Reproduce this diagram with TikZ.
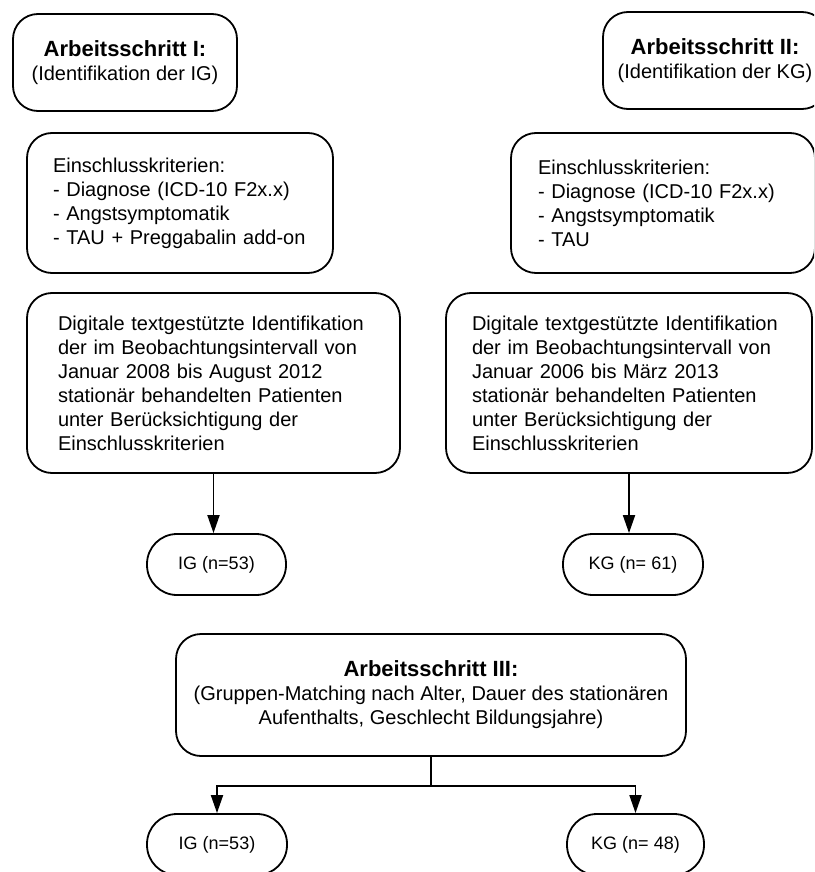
\documentclass[tikz,border=0pt]{standalone}
\usepackage{fontspec}
\setmainfont{Liberation Sans}
\usetikzlibrary{arrows.meta}

\begin{document}
\begin{tikzpicture}[x=1pt, y=-1pt, >={Triangle[length=18pt,width=12pt]},
  box/.style={draw, line width=1.8pt, rounded corners=25pt, inner sep=0pt,
    font=\fontsize{20}{24}\selectfont},
  stepbox/.style={box, align=center, minimum width=224pt, minimum height=97pt},
  critbox/.style={box, align=left, minimum height=140pt},
  idbox/.style={box, align=left, minimum height=180pt},
  groupbox/.style={box, rounded corners=30pt, minimum width=139pt, minimum height=61pt,
    font=\fontsize{18}{22}\selectfont},
  conn/.style={->, line width=1.8pt}]
  \clip (0,0) rectangle (814,872);
  % left column: intervention group
  \node[stepbox] (stepI) at (125,62.5)
    {{\bfseries\fontsize{22}{26}\selectfont Arbeitsschritt I:}\\(Identifikation der IG)};
  \node[critbox, minimum width=306pt, text width=254pt] (critI) at (180,203)
    {Einschlusskriterien:\\- Diagnose (ICD-10 F2x.x)\\- Angstsymptomatik\\- TAU + Preggabalin add-on};
  \node[idbox, minimum width=373pt, text width=311pt] (idI) at (213.5,383)
    {Digitale textgestützte Identifikation\\der im Beobachtungsintervall von\\Januar 2008 bis August 2012\\stationär behandelten Patienten\\unter Berücksichtigung der\\Einschlusskriterien};
  \node[groupbox] (igI) at (216.5,564.5) {IG (n=53)};
  % right column: control group
  \node[stepbox] (stepII) at (715,60.5)
    {{\bfseries\fontsize{22}{26}\selectfont Arbeitsschritt II:}\\(Identifikation der KG)};
  \node[critbox, minimum width=304pt, text width=250pt] (critII) at (663,203)
    {Einschlusskriterien:\\- Diagnose (ICD-10 F2x.x)\\- Angstsymptomatik\\- TAU};
  \node[idbox, minimum width=366pt, text width=314pt] (idII) at (629,383)
    {Digitale textgestützte Identifikation\\der im Beobachtungsintervall von\\Januar 2006 bis März 2013\\stationär behandelten Patienten\\unter Berücksichtigung der\\Einschlusskriterien};
  \node[groupbox, minimum width=140pt] (kgI) at (633,564.5) {KG (n= 61)};
  \draw[conn] (idI.south) -- (idI.south |- igI.north);
  \draw[conn] (idII.south) -- (idII.south |- kgI.north);
  % matching
  \node[box, align=center, minimum width=510pt, minimum height=122pt] (stepIII) at (431,695)
    {{\bfseries\fontsize{22}{26}\selectfont Arbeitsschritt III:}\\(Gruppen-Matching nach Alter, Dauer des stationären\\Aufenthalts, Geschlecht Bildungsjahre)};
  \node[groupbox, minimum width=140pt] (igII) at (217,844.5) {IG (n=53)};
  \node[groupbox, minimum width=137pt] (kgII) at (635.5,844.5) {KG (n= 48)};
  \coordinate (split) at ([yshift=-29pt]stepIII.south);
  \draw[line width=1.8pt] (stepIII.south) -- (split);
  \draw[conn] (split) -| (igII.north);
  \draw[conn] (split) -| (kgII.north);
\end{tikzpicture}
\end{document}
